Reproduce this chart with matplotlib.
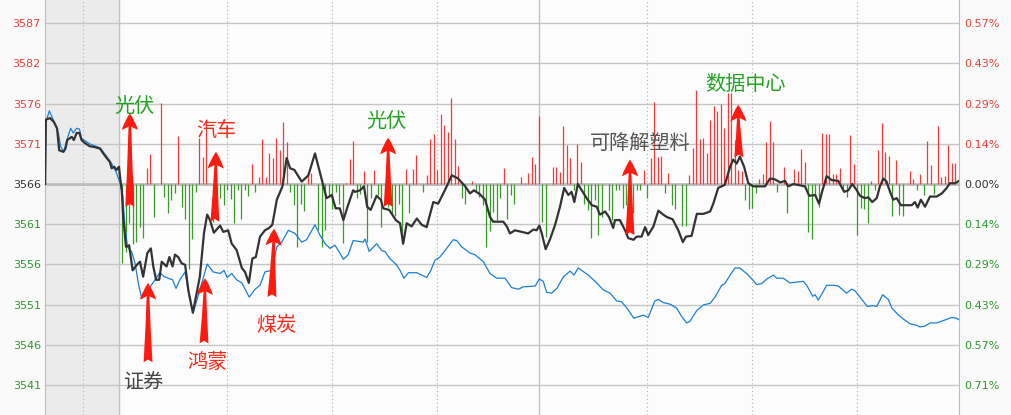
import numpy as np
import matplotlib
matplotlib.use("Agg")
import matplotlib.pyplot as plt
from matplotlib.patches import ArrowStyle

plt.rcParams["font.family"] = ["DejaVu Sans"]

# DATA ##########################################
PREV_CLOSE = 3566.4
STEP = 5.121          # one gridline = 0.1436 %

left_labels = ["3587", "3582", "3576", "3571", "3566", "3561", "3556", "3551", "3546", "3541"]
right_labels = ["0.57%", "0.43%", "0.29%", "0.14%", "0.00%", "0.14%", "0.29%", "0.43%", "0.57%", "0.71%"]

# minutes from 9:30 (negative = call auction)
black_t = [-21.1, -20.9, -19.7, -18.6, -17.7, -17.1, -15.9, -15.3, -14.8, -13.5,
           -12.9, -12.1, -11.3, -10.7, -9.7, -8.3, -6.9, -5.4, -4.5, -3.5,
           -2.6, -2.1, -1.4, -0.7, 0.0, 0.3, 0.8, 1.2, 2.0, 2.9,
           3.9, 5.1, 6.0, 6.9, 8.1, 9.1, 9.8, 10.6, 11.5, 12.2,
           13.6, 14.4, 15.3, 16.0, 16.9, 17.9, 18.9, 19.8, 21.1, 22.2,
           23.1, 24.3, 25.2, 26.0, 27.1, 28.9, 29.8, 31.2, 32.2, 33.6,
           35.1, 36.0, 37.1, 38.1, 39.1, 40.3, 41.7, 42.9, 43.8, 45.1,
           46.7, 47.9, 48.9, 50.1, 52.2, 54.1, 56.0, 57.1, 58.4, 59.3,
           60.8, 61.9, 63.1, 64.1, 65.3, 66.9, 67.4, 68.9, 70.0, 70.9,
           71.9, 73.6, 74.8, 75.5, 77.2, 79.1, 80.3, 81.2, 82.2, 83.6,
           85.1, 86.5, 87.9, 89.8, 91.2, 93.1, 95.1, 96.9, 98.9, 100.3,
           101.4, 103.1, 104.6, 106.0, 106.9, 109.8, 110.8, 111.7, 113.1, 115.1,
           116.9, 118.4, 119.3, 120.1, 120.8, 121.9, 123.1, 124.6, 126.0, 127.2,
           128.4, 129.3, 130.1, 131.1, 132.2, 133.6, 135.1, 136.5, 137.4, 138.9,
           140.0, 141.2, 141.7, 143.1, 144.6, 145.5, 147.0, 147.9, 149.3, 150.3,
           151.2, 152.7, 154.1, 155.5, 156.5, 158.2, 159.8, 161.1, 162.0, 163.6,
           165.1, 167.0, 168.9, 169.8, 171.2, 173.1, 174.6, 175.5, 176.5, 177.4,
           178.6, 179.8, 181.2, 184.6, 186.0, 187.4, 188.9, 190.3, 191.2, 192.7,
           196.0, 197.2, 198.9, 200.0, 201.0, 202.2, 203.6, 205.5, 207.2, 208.4,
           209.5, 210.8, 211.7, 213.1, 214.1, 215.2, 216.5, 217.4, 218.4, 219.3,
           220.3, 221.2, 222.2, 223.4, 226.5, 227.4, 228.2, 229.1, 230.3, 231.7,
           233.6, 235.1, 236.5, 237.4, 238.9, 240.0]
black_v = [3566.4, 3574.6, 3574.8, 3574.3, 3573.5, 3570.7, 3570.5, 3570.9, 3572.0, 3572.4,
           3572.0, 3572.9, 3572.9, 3572.0, 3571.6, 3571.2, 3571.1, 3570.9, 3570.3, 3569.7,
           3569.2, 3568.4, 3568.6, 3568.2, 3568.6, 3567.3, 3565.6, 3562.2, 3558.4, 3558.6,
           3555.4, 3556.1, 3556.5, 3554.6, 3557.6, 3558.2, 3555.9, 3554.2, 3554.2, 3556.5,
           3555.9, 3557.1, 3555.9, 3557.4, 3557.1, 3556.3, 3556.1, 3552.9, 3550.0, 3552.5,
           3554.6, 3560.2, 3562.5, 3561.8, 3560.2, 3561.1, 3560.3, 3560.5, 3558.8, 3558.0,
           3555.7, 3555.2, 3553.8, 3556.9, 3557.1, 3559.7, 3560.5, 3560.8, 3561.2, 3564.4,
           3566.1, 3569.7, 3568.4, 3568.2, 3566.7, 3567.5, 3570.3, 3568.4, 3566.1, 3564.6,
           3565.0, 3563.3, 3563.3, 3561.8, 3563.5, 3565.6, 3565.4, 3565.6, 3566.1, 3563.5,
           3563.1, 3564.9, 3564.4, 3563.3, 3563.1, 3561.8, 3561.4, 3558.8, 3561.4, 3561.0,
           3562.0, 3561.2, 3560.9, 3564.1, 3563.9, 3565.6, 3567.5, 3567.1, 3566.1, 3565.2,
           3565.6, 3565.1, 3564.4, 3562.2, 3561.6, 3561.6, 3561.0, 3560.1, 3560.5, 3560.3,
           3560.1, 3560.6, 3560.5, 3561.1, 3560.1, 3558.1, 3559.3, 3561.2, 3563.5, 3565.9,
           3565.0, 3565.4, 3564.1, 3566.4, 3565.6, 3564.6, 3563.7, 3563.5, 3562.5, 3562.9,
           3562.2, 3560.8, 3561.8, 3561.8, 3560.5, 3559.5, 3559.3, 3559.7, 3559.7, 3560.9,
           3559.9, 3561.0, 3563.0, 3562.5, 3562.2, 3561.9, 3560.5, 3559.0, 3559.7, 3559.8,
           3562.6, 3562.6, 3562.9, 3563.9, 3565.9, 3566.3, 3568.6, 3569.5, 3569.0, 3569.9,
           3568.6, 3566.5, 3566.1, 3566.1, 3567.1, 3567.0, 3566.6, 3566.8, 3566.1, 3566.4,
           3566.1, 3564.9, 3565.0, 3563.9, 3565.6, 3567.4, 3566.9, 3566.8, 3565.4, 3565.6,
           3566.4, 3565.6, 3564.9, 3564.6, 3564.7, 3564.1, 3564.6, 3566.1, 3567.1, 3566.7,
           3565.4, 3564.4, 3564.6, 3563.7, 3563.7, 3564.1, 3563.4, 3564.4, 3563.5, 3564.8,
           3564.8, 3565.2, 3565.9, 3566.5, 3566.5, 3566.8]

blue_t = [-21.1, -20.9, -19.9, -18.8, -17.3, -16.7, -15.7, -14.9, -13.8, -13.1,
          -12.1, -11.3, -10.7, -8.3, -5.4, -3.5, -2.1, -0.7, 0.3, 1.1,
          1.7, 2.4, 3.6, 4.6, 5.5, 6.5, 7.7, 8.9, 10.3, 11.7,
          12.9, 14.1, 15.3, 16.3, 17.4, 18.9, 20.1, 21.2, 23.1, 25.2,
          26.9, 28.9, 30.0, 30.9, 32.2, 33.6, 35.1, 37.2, 38.9, 40.3,
          41.7, 43.6, 45.1, 46.5, 48.4, 50.3, 52.2, 53.6, 56.0, 57.4,
          58.9, 60.3, 61.7, 63.1, 64.1, 65.5, 66.9, 69.8, 70.3, 71.5,
          73.6, 75.1, 76.0, 77.4, 79.3, 80.3, 81.4, 82.7, 85.1, 87.9,
          88.9, 90.3, 91.7, 93.6, 95.5, 96.5, 97.9, 100.3, 101.7, 104.1,
          106.0, 107.9, 110.3, 112.2, 114.1, 115.5, 118.9, 120.1, 121.2, 122.2,
          123.6, 125.1, 127.0, 128.9, 130.0, 131.2, 134.1, 136.5, 138.4, 140.3,
          142.2, 143.6, 145.1, 147.1, 149.8, 151.2, 153.1, 154.1, 155.5, 157.4,
          159.3, 160.8, 162.2, 163.1, 165.1, 167.0, 168.9, 170.3, 172.2, 173.1,
          174.6, 176.0, 177.4, 179.8, 182.2, 183.6, 185.1, 187.0, 187.9, 189.8,
          191.7, 195.5, 196.5, 198.2, 198.9, 199.8, 202.2, 204.1, 205.5, 207.9,
          209.3, 210.3, 211.7, 213.8, 215.5, 216.5, 218.2, 219.8, 220.8, 222.7,
          224.1, 226.0, 227.9, 228.9, 230.3, 231.7, 233.6, 235.5, 237.9, 239.3,
          240.0]
blue_v = [3566.4, 3574.3, 3575.7, 3574.6, 3572.9, 3571.2, 3570.5, 3572.0, 3573.5, 3572.9,
          3573.5, 3573.4, 3572.2, 3571.5, 3571.0, 3569.9, 3569.0, 3567.8, 3566.5, 3564.8,
          3561.0, 3558.4, 3557.8, 3556.3, 3553.8, 3551.8, 3552.5, 3553.3, 3554.2, 3555.1,
          3554.6, 3554.4, 3554.2, 3553.1, 3554.2, 3555.2, 3552.0, 3550.0, 3552.9, 3556.2,
          3555.2, 3555.0, 3555.4, 3554.5, 3555.0, 3554.2, 3553.8, 3552.0, 3553.0, 3553.5,
          3555.2, 3555.4, 3558.4, 3559.0, 3560.5, 3560.1, 3559.0, 3559.3, 3561.2, 3559.9,
          3558.8, 3558.2, 3558.6, 3557.6, 3556.8, 3557.4, 3559.2, 3559.0, 3559.4, 3557.8,
          3558.8, 3557.9, 3557.8, 3556.9, 3556.1, 3555.4, 3554.4, 3555.1, 3555.1, 3554.5,
          3555.2, 3556.7, 3557.1, 3558.2, 3559.3, 3559.2, 3558.4, 3557.6, 3557.4, 3556.5,
          3555.0, 3554.4, 3554.4, 3553.2, 3553.0, 3553.3, 3553.4, 3554.3, 3554.0, 3552.6,
          3552.5, 3553.1, 3554.6, 3555.3, 3554.8, 3555.7, 3554.8, 3553.8, 3552.9, 3552.5,
          3551.5, 3551.4, 3550.6, 3549.3, 3549.7, 3549.4, 3551.5, 3551.7, 3551.3, 3551.1,
          3550.6, 3549.5, 3548.7, 3548.9, 3550.3, 3551.0, 3551.2, 3552.0, 3553.5, 3553.7,
          3554.8, 3555.7, 3555.7, 3554.8, 3553.6, 3553.7, 3554.3, 3554.8, 3554.4, 3554.4,
          3553.8, 3554.0, 3553.5, 3552.1, 3552.3, 3551.6, 3553.5, 3553.5, 3553.4, 3552.5,
          3553.0, 3552.8, 3552.0, 3550.8, 3550.9, 3550.8, 3552.3, 3551.7, 3550.6, 3549.7,
          3549.2, 3548.6, 3548.4, 3548.2, 3548.3, 3548.7, 3548.7, 3549.0, 3549.4, 3549.3,
          3549.1]

# red (up) and green (down) bars, in index points from the baseline
red_t = [8, 9, 12, 17, 23, 24, 25, 38, 40, 41, 42, 43, 44, 45, 46, 47, 48, 54, 55, 65,
         66, 67, 70, 73, 82, 84, 85, 88, 89, 90, 91, 92, 93, 94, 95, 96, 97, 101, 110, 115,
         116, 117, 118, 119, 120, 124, 125, 126, 127, 128, 129, 131, 132, 150, 152, 153, 154, 155, 157, 163,
         164, 165, 166, 167, 168, 169, 170, 171, 172, 173, 174, 175, 176, 177, 178, 183, 184, 185, 186, 187,
         190, 193, 194, 195, 196, 201, 202, 203, 204, 205, 206, 209, 210, 215, 217, 218, 219, 220, 222, 226,
         227, 229, 231, 232, 234, 235, 236, 237, 238, 239]
red_v = [2.0, 3.8, 10.3, 6.1, 5.8, 3.5, 8.1, 2.5, 0.9, 5.7, 0.9, 4.0, 3.3, 5.9, 4.3, 7.9, 5.3, 1.1, 1.4, 0.1,
         3.2, 5.5, 1.7, 1.8, 1.9, 1.9, 3.7, 1.1, 5.7, 6.4, 1.8, 8.9, 7.5, 6.6, 11.0, 5.7, 2.3, 0.4, 2.0, 0.9,
         0.1, 1.4, 3.4, 2.5, 8.7, 2.2, 2.2, 1.5, 7.4, 5.0, 3.3, 5.1, 2.8, 1.8, 3.3, 10.4, 3.4, 3.6, 1.4, 1.1,
         4.6, 12.0, 5.7, 5.9, 3.9, 8.2, 9.9, 9.3, 10.2, 7.1, 11.6, 11.6, 5.6, 1.8, 1.6, 0.6, 1.3, 5.4, 8.0, 5.4,
         2.2, 1.9, 1.7, 4.5, 2.8, 6.5, 6.4, 6.4, 1.3, 1.3, 2.0, 6.2, 2.5, 0.4, 4.3, 7.8, 4.1, 3.6, 3.1, 1.7,
         0.6, 1.3, 5.5, 2.4, 7.4, 0.9, 1.0, 5.0, 2.7, 2.7]
green_t = [1, 2, 3, 4, 5, 6, 7, 10, 13, 14, 15, 16, 18, 19, 20, 21, 22, 27, 28, 29,
           30, 31, 32, 33, 34, 35, 36, 37, 39, 49, 50, 51, 52, 53, 57, 58, 59, 60, 61, 62,
           63, 64, 68, 69, 71, 72, 74, 75, 76, 77, 78, 79, 80, 81, 83, 87, 98, 99, 102, 103,
           104, 105, 106, 107, 108, 109, 111, 112, 113, 121, 122, 130, 133, 134, 135, 136, 137, 138, 140, 141,
           142, 143, 144, 145, 147, 148, 149, 151, 156, 158, 159, 161, 162, 179, 180, 181, 182, 188, 191, 197,
           198, 199, 200, 207, 208, 211, 212, 213, 214, 216, 221, 223, 224, 228, 230, 233, 240]
green_v = [10.1, 8.7, 5.0, 7.6, 7.4, 5.5, 6.9, 4.2, 1.7, 3.7, 2.0, 1.2, 2.9, 4.5, 10.8, 7.0, 1.0, 4.8, 2.0, 1.8,
           2.7, 0.8, 1.9, 5.0, 0.8, 4.4, 0.8, 1.5, 1.0, 1.0, 2.7, 8.0, 2.5, 3.5, 5.8, 8.0, 5.9, 1.6, 3.2, 1.0,
           2.5, 7.5, 1.8, 1.3, 7.4, 1.8, 1.4, 5.5, 2.7, 2.9, 3.7, 4.1, 2.5, 7.6, 3.7, 1.0, 1.8, 2.5, 1.0, 1.6,
           2.7, 8.0, 6.0, 3.6, 4.6, 1.8, 4.5, 1.4, 2.5, 4.8, 6.7, 0.8, 2.5, 3.3, 6.9, 2.0, 6.5, 4.2, 3.3, 4.6,
           0.8, 0.8, 3.1, 2.7, 3.7, 0.8, 0.8, 1.8, 1.1, 2.7, 3.2, 5.4, 5.3, 2.0, 3.2, 3.1, 1.1, 1.0, 3.7, 6.1,
           7.0, 1.6, 2.9, 0.8, 1.6, 6.5, 3.1, 3.2, 5.0, 0.8, 4.1, 3.9, 4.1, 0.8, 1.4, 1.3, 0.8]

# sector notes: label, text position, arrow tip, arrow tail
note_labels = ["光伏", "汽车", "证券", "鸿蒙", "煤炭", "光伏", "可降解塑料", "数据中心"]
note_text_xy = [(4.3, 3576.3), (27.7, 3573.2), (7.1, 3541.0), (25.4, 3543.6),
                (44.9, 3548.4), (76.3, 3574.4), (148.9, 3571.6), (179.1, 3579.1)]
note_tip_xy = [(3.1, 3575.4), (27.7, 3570.5), (8.3, 3553.8), (24.6, 3554.4),
               (44.3, 3560.7), (76.9, 3572.3), (146.0, 3569.5), (176.9, 3576.5)]
note_tail_xy = [(3.1, 3563.5), (27.4, 3561.6), (8.3, 3543.7), (24.3, 3546.1),
                (43.7, 3552.0), (76.9, 3563.5), (146.0, 3559.9), (177.1, 3569.8)]
note_colors = ["#22a322", "#ff2a1a", "#454545", "#ff2a1a", "#ff2a1a", "#22a322", "#555555", "#22a322"]

# PLOT ##########################################
RED, GREEN, DARK = "#e8403c", "#2e952e", "#333333"
X0, X1 = -21.14, 240

fig = plt.figure(figsize=(10.11, 4.15), dpi=100, facecolor="#fafafa")
ax = fig.add_axes([45 / 1011, 0, 914 / 1011, 1])
ax.set_facecolor("#fcfcfc")
ax.set_xlim(X0, X1)
ax.set_ylim(PREV_CLOSE - 5.746 * STEP, PREV_CLOSE + 4.577 * STEP)

# grid
ax.axvspan(X0, 0, color="#ebebeb", zorder=0)
ticks = [PREV_CLOSE + k * STEP for k in range(4, -6, -1)]
for i, y in enumerate(ticks):
    if i == 4:
        ax.axhline(y, color="#bcbcbc", lw=2, zorder=1)
    else:
        ax.axhline(y, color="#c6c6c6", lw=1, zorder=1)
for xv in [-10.4, 31, 61, 91, 151, 181, 211]:
    ax.axvline(xv, color="#b0b0b0", lw=0.8, ls=(0, (1, 2.5)), zorder=1)
for xv in [0, 120]:
    ax.axvline(xv, color="#c2c2c2", lw=1, zorder=1)

# bars and lines
ax.vlines(red_t, PREV_CLOSE, PREV_CLOSE + np.array(red_v), color="#f03c3c", lw=0.9, zorder=2)
ax.vlines(green_t, PREV_CLOSE - np.array(green_v), PREV_CLOSE, color="#3a9a2a", lw=0.9, zorder=2)
ax.plot(blue_t, blue_v, color="#1a7fd6", lw=0.9, zorder=3)
ax.plot(black_t, black_v, color="#333333", lw=1.6, zorder=4)

# axes and tick labels
tick_colors = [RED] * 4 + [DARK] + [GREEN] * 5
ax.set_xticks([])
ax.set_yticks(ticks, left_labels)
ax.tick_params(axis="y", length=0, pad=3, labelsize=8)
for lab, c in zip(ax.get_yticklabels(), tick_colors):
    lab.set_color(c)
for side in ["top", "bottom"]:
    ax.spines[side].set_visible(False)
for side in ["left", "right"]:
    ax.spines[side].set_color("#bdbdbd")

ax2 = ax.twinx()
ax2.set_ylim(ax.get_ylim())
ax2.set_yticks(ticks, right_labels)
ax2.tick_params(axis="y", length=0, pad=4, labelsize=8)
for lab, c in zip(ax2.get_yticklabels(), tick_colors):
    lab.set_color(c)
for side in ["top", "bottom", "left", "right"]:
    ax2.spines[side].set_visible(False)

# arrows and notes
arrow = ArrowStyle("fancy", head_length=0.6, head_width=0.58, tail_width=0.32)
for label, txy, tip, tail, c in zip(note_labels, note_text_xy, note_tip_xy, note_tail_xy, note_colors):
    ax.annotate("", xy=tip, xytext=tail, zorder=6,
                arrowprops=dict(arrowstyle=arrow, fc="#ff1a10", ec="none",
                                shrinkA=0, shrinkB=0, mutation_scale=20))
    ax.text(txy[0], txy[1], label, ha="center", va="center", color=c, fontsize=14.5,
            family=["Noto Sans CJK SC", "DejaVu Sans"], zorder=7)

fig.savefig("out.png", dpi=100, facecolor=fig.get_facecolor())
